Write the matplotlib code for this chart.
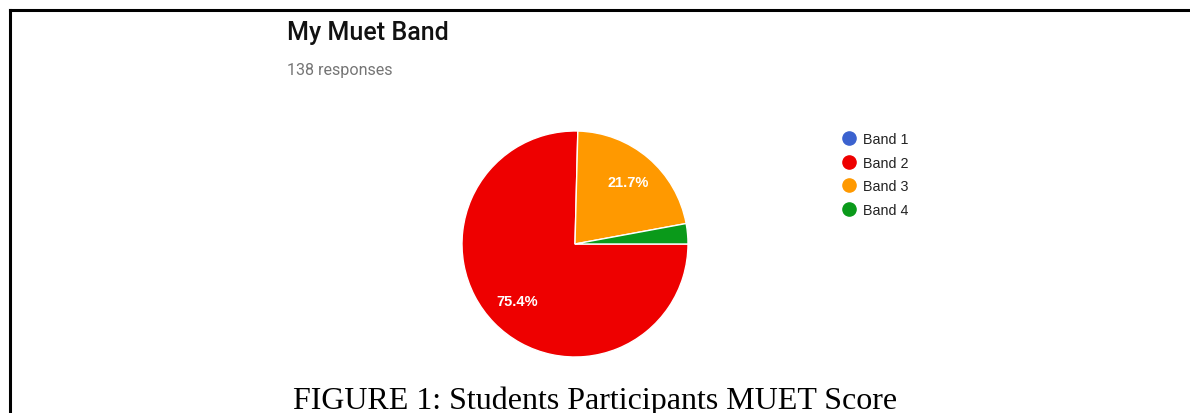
import matplotlib
matplotlib.use('Agg')
import matplotlib.pyplot as plt
from matplotlib.lines import Line2D

# data (138 responses)
bands = ['Band 1', 'Band 2', 'Band 3', 'Band 4']
share = [0.0, 75.4, 21.7, 2.9]
colors = ['#3b62cf', '#ee0000', '#ff9900', '#0a9a1a']

title = 'My Muet Band'
subtitle = '138 responses'
caption = 'FIGURE 1: Students Participants MUET Score'

W, H = 1190, 414
fig = plt.figure(figsize=(W / 100, H / 100), dpi=100)
fig.patch.set_facecolor('white')

# pie axes: centre (575, 245) px, radius 113 px
cx, cy, r = 575, 245, 113
ax = fig.add_axes([(cx - r) / W, (H - cy - r) / H, 2 * r / W, 2 * r / H])


def fmt(p):
    return f'{p:.1f}%' if p > 5 else ''


wedges, texts, autotexts = ax.pie(
    share, colors=colors, startangle=0, counterclock=False,
    autopct=fmt, pctdistance=0.72,
    wedgeprops=dict(edgecolor='white', linewidth=1),
    textprops=dict(color='white', fontsize=10.5, fontweight='bold',
                   family='Liberation Sans'))
ax.set_xlim(-1, 1)
ax.set_ylim(-1, 1)
ax.set_aspect('equal')
ax.axis('off')

# legend
handles = [Line2D([0], [0], marker='o', linestyle='none', markersize=9.5,
                  markerfacecolor=c, markeredgecolor=c) for c in colors]
leg = fig.legend(handles, bands, loc='upper left',
                 bbox_to_anchor=(842 / W, 1 - 133 / H), frameon=False,
                 prop=dict(family='Liberation Sans', size=10.3), labelcolor='#222222',
                 handlelength=1.0, handletextpad=0.45, labelspacing=0.68,
                 borderaxespad=0, borderpad=0)

# titles
fig.text(287 / W, 1 - 33 / H, title, fontsize=18, family='Roboto',
         fontweight='medium', color='#111111', va='center', ha='left')
fig.text(287 / W, 1 - 70 / H, subtitle, fontsize=11.6, family='Roboto',
         color='#757575', va='center', ha='left')

# caption
fig.text(595 / W, 1 - 409 / H, caption, fontsize=23, family='Liberation Serif',
         color='black', va='baseline', ha='center')

# page frame: top and left rules
fig.add_artist(Line2D([10 / W, 1], [1 - 11 / H, 1 - 11 / H], color='black', lw=2.2))
fig.add_artist(Line2D([10 / W, 10 / W], [0, 1 - 11 / H], color='black', lw=2.2))

fig.savefig('out.png', dpi=100, facecolor='white')
